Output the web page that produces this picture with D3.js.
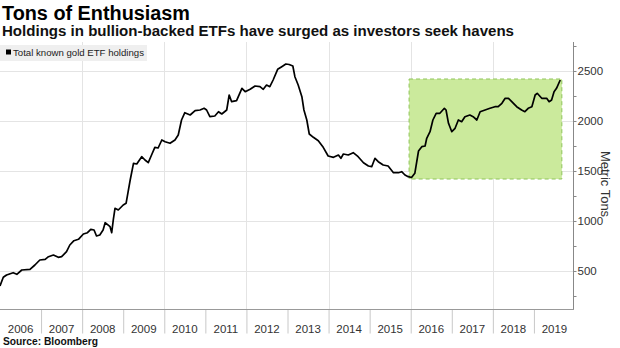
<!DOCTYPE html>
<html><head><meta charset="utf-8">
<script src="https://cdn.jsdelivr.net/npm/d3@7"></script>
<style>
body{margin:0;background:#fff;}
svg{display:block;font-family:"Liberation Sans",Arial,sans-serif;}
</style></head>
<body>
<svg id="chart" width="620" height="348"></svg>
<script>
// ---- data (decimal years, metric tons) ----
const dates = [2006.00,2006.08,2006.16,2006.32,2006.41,2006.53,2006.73,2006.85,2006.97,2007.10,2007.18,2007.30,2007.42,2007.50,2007.62,2007.70,2007.80,2007.91,2008.03,2008.13,2008.21,2008.29,2008.35,2008.43,2008.51,2008.56,2008.68,2008.72,2008.76,2008.80,2008.88,2009.00,2009.07,2009.12,2009.17,2009.25,2009.33,2009.45,2009.53,2009.61,2009.69,2009.77,2009.85,2009.94,2010.02,2010.14,2010.26,2010.34,2010.42,2010.50,2010.63,2010.75,2010.87,2010.97,2011.03,2011.11,2011.23,2011.32,2011.40,2011.52,2011.58,2011.64,2011.76,2011.89,2011.97,2012.09,2012.21,2012.33,2012.41,2012.49,2012.57,2012.65,2012.76,2012.86,2012.96,2013.04,2013.13,2013.18,2013.26,2013.35,2013.40,2013.47,2013.53,2013.63,2013.75,2013.87,2013.99,2014.12,2014.24,2014.30,2014.36,2014.48,2014.60,2014.72,2014.85,2014.97,2015.05,2015.13,2015.21,2015.33,2015.45,2015.58,2015.70,2015.78,2015.86,2015.94,2016.02,2016.10,2016.19,2016.27,2016.35,2016.39,2016.47,2016.54,2016.62,2016.71,2016.82,2016.86,2016.92,2017.00,2017.08,2017.16,2017.24,2017.32,2017.44,2017.52,2017.61,2017.69,2017.81,2017.93,2018.05,2018.13,2018.22,2018.30,2018.38,2018.46,2018.58,2018.70,2018.78,2018.86,2018.95,2019.03,2019.08,2019.19,2019.31,2019.37,2019.43,2019.49,2019.55,2019.64];
const holdings = [350,437,460,483,467,510,517,560,610,617,643,660,637,643,693,760,803,817,870,883,917,910,850,860,910,983,943,883,1017,1127,1110,1160,1177,1293,1410,1577,1570,1643,1610,1583,1660,1737,1730,1810,1793,1777,1810,1860,2010,2083,2060,2103,2110,2127,2110,2043,2050,2093,2070,2110,2260,2193,2203,2327,2293,2317,2350,2343,2317,2360,2343,2410,2517,2543,2570,2565,2550,2443,2360,2243,2110,2010,1870,1837,1803,1737,1650,1637,1660,1627,1670,1660,1683,1643,1583,1550,1543,1627,1593,1560,1550,1483,1483,1493,1460,1443,1435,1477,1700,1743,1750,1827,1893,2010,2077,2077,2127,2110,1977,1893,1927,2010,1993,2043,2060,2043,2010,2093,2110,2127,2143,2143,2177,2227,2227,2193,2143,2110,2093,2127,2143,2260,2277,2227,2227,2193,2210,2293,2327,2410];
const yearLabels = [2006,2007,2008,2009,2010,2011,2012,2013,2014,2015,2016,2017,2018,2019];
const yTickValues = [500,1000,1500,2000,2500];
const yMinorTicks = [250,750,1250,1750,2250,2750];
const gridYears = [2008,2010,2012,2014,2016,2018];
const highlightDates = [2015.96, 2019.68];
const highlightValues = [1420, 2420];
const seriesName = "Total known gold ETF holdings";

const svg = d3.select("#chart");
const x = d3.scaleLinear().domain([2006, 2020]).range([0, 575]);
const y = d3.scaleLinear().domain([0, 2500]).range([321, 71]);
const plotTop = 42, plotBottom = 309, axisX = 573;

// titles
svg.append("text").attr("x",2).attr("y",20).attr("font-size",20).attr("font-weight","bold")
  .attr("fill","#000").attr("textLength",188).attr("lengthAdjust","spacingAndGlyphs").text("Tons of Enthusiasm");
svg.append("text").attr("x",2).attr("y",36).attr("font-size",14).attr("font-weight","bold")
  .attr("fill","#111").attr("textLength",512).attr("lengthAdjust","spacingAndGlyphs")
  .text("Holdings in bullion-backed ETFs have surged as investors seek havens");

// grid
const grid = svg.append("g");
grid.selectAll("line.h").data(yTickValues).join("line")
  .attr("x1",0).attr("x2",axisX).attr("y1",d=>y(d)).attr("y2",d=>y(d))
  .attr("stroke","#e4e4e4").attr("stroke-width",1).attr("shape-rendering","crispEdges");
grid.selectAll("line.v").data(gridYears).join("line")
  .attr("x1",d=>Math.round(x(d))+0.5).attr("x2",d=>Math.round(x(d))+0.5).attr("y1",plotTop).attr("y2",plotBottom)
  .attr("stroke","#e4e4e4").attr("stroke-width",1);

// highlight box
svg.append("rect")
  .attr("x",x(highlightDates[0])).attr("y",y(highlightValues[1]))
  .attr("width",x(highlightDates[1])-x(highlightDates[0]))
  .attr("height",y(highlightValues[0])-y(highlightValues[1]))
  .attr("fill","#cbea9c").attr("stroke","#8fc45a").attr("stroke-width",1)
  .attr("stroke-dasharray","4,3");

// line
const pts = dates.map((d,i)=>[d,holdings[i]]);
svg.append("path").datum(pts)
  .attr("d", d3.line().x(d=>x(d[0])).y(d=>y(d[1])))
  .attr("fill","none").attr("stroke","#000").attr("stroke-width",1.7)
  .attr("stroke-linejoin","round");

// legend
const lg = svg.append("g");
lg.append("rect").attr("x",0).attr("y",45).attr("width",147).attr("height",16).attr("fill","#efefef");
lg.append("rect").attr("x",6).attr("y",49.5).attr("width",5).attr("height",5).attr("fill","#000");
lg.append("text").attr("x",13).attr("y",56).attr("font-size",9.5).attr("fill","#222")
  .attr("textLength",131).attr("lengthAdjust","spacingAndGlyphs").text(seriesName);

// right axis
const yAxis = d3.axisRight(y).tickValues(yMinorTicks.concat(yTickValues)).tickSize(3)
  .tickFormat(d => yTickValues.includes(d) ? d : "");
const ya = svg.append("g").attr("transform",`translate(${axisX+0.5},0)`).call(yAxis);
ya.select(".domain").remove();
ya.selectAll("line").attr("stroke","#888");
ya.selectAll("text").attr("x",4).attr("font-size",11.5).attr("fill","#333")
  .attr("font-family","Liberation Sans, Arial, sans-serif");
svg.append("line").attr("x1",axisX+0.5).attr("x2",axisX+0.5).attr("y1",plotTop).attr("y2",plotBottom+0.5)
  .attr("stroke","#888").attr("stroke-width",1);

// bottom axis
const xAxis = d3.axisBottom(x).tickValues(yearLabels.slice(1)).tickSize(24).tickFormat("");
const xa = svg.append("g").attr("transform",`translate(0,${plotBottom+0.5})`).call(xAxis);
xa.select(".domain").remove();
xa.selectAll("line").attr("stroke","#c8c8c8");
svg.append("line").attr("x1",0).attr("x2",axisX+1).attr("y1",plotBottom+0.5).attr("y2",plotBottom+0.5)
  .attr("stroke","#999").attr("stroke-width",1);
svg.append("g").selectAll("text").data(yearLabels).join("text")
  .attr("x",d=>x(d+0.5)).attr("y",333).attr("text-anchor","middle")
  .attr("font-size",11.5).attr("fill","#333").text(d=>d);

// y title
svg.append("text").attr("transform","translate(601,184) rotate(90)").attr("text-anchor","middle")
  .attr("font-size",13).attr("fill","#333").text("Metric Tons");

// source
svg.append("text").attr("x",3).attr("y",345).attr("font-size",10).attr("font-weight","bold")
  .attr("fill","#111").attr("textLength",95).attr("lengthAdjust","spacingAndGlyphs").text("Source:  Bloomberg");
</script>
</body></html>
